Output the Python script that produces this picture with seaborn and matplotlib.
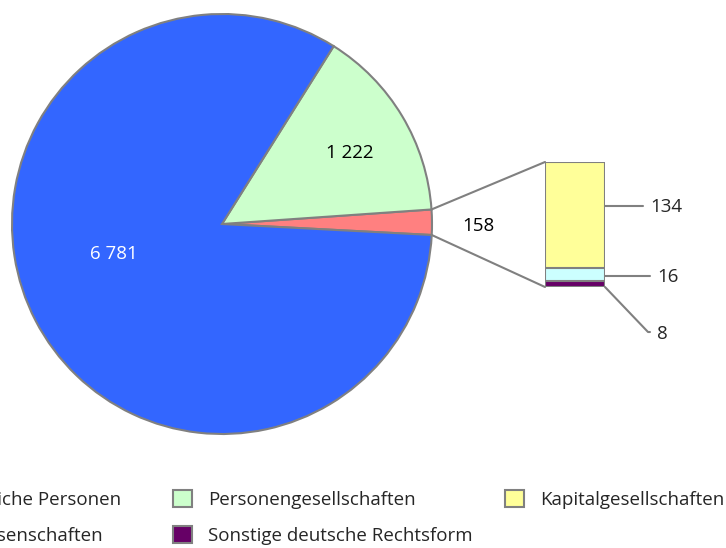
import matplotlib
matplotlib.use("Agg")
import matplotlib.pyplot as plt
from matplotlib.patches import Patch, ConnectionPatch
import numpy as np
import seaborn as sns

sns.set_theme(style="white")
plt.rcParams['font.family'] = ['Open Sans', 'DejaVu Sans']

# pie: red slice is the sum of the bar parts
pie_labels = ["Sonstige", "Personengesellschaften", "Natürliche Personen"]
pie_values = [158, 1222, 6781]
pie_colors = ["#FF8080", "#CCFFCC", "#3366FF"]

# bar that breaks down the red slice (bottom to top)
bar_labels = ["Sonstige deutsche Rechtsform", "Genossenschaften", "Kapitalgesellschaften"]
bar_values = [8, 16, 134]
bar_colors = ["#660066", "#CCFFFF", "#FFFF99"]

# legend columns as in the original
leg_cols = [
    (["Natürliche Personen", "Genossenschaften"], ["#3366FF", "#CCFFFF"]),
    (["Personengesellschaften", "Sonstige deutsche Rechtsform"], ["#CCFFCC", "#660066"]),
    (["Kapitalgesellschaften"], ["#FFFF99"]),
]

edge = "#808080"
fs = 13.5
W, H = 726, 548
fig = plt.figure(figsize=(W / 100, H / 100), dpi=100)

# pie axes: centre (222,224) radius 210 px
cx, cy, r = 222, 224, 210
pax = fig.add_axes([(cx - r) / W, (H - cy - r) / H, 2 * r / W, 2 * r / H])
red_share = pie_values[0] / sum(pie_values) * 360
start = -3.0
wedges, _ = pax.pie(pie_values, colors=pie_colors, startangle=start, counterclock=True,
                    wedgeprops=dict(edgecolor=edge, linewidth=1.5))
pax.set_xlim(-1, 1)
pax.set_ylim(-1, 1)
pax.set_aspect("auto")

def fmt(v):
    return f"{v:,}".replace(",", " ")

pax.text(0.610, 0.338, fmt(pie_values[1]), ha="center", va="center", fontsize=fs, color="black")
pax.text(-0.514, -0.143, fmt(pie_values[2]), ha="center", va="center", fontsize=fs, color="white")
pax.text(1.221, -0.009, fmt(pie_values[0]), ha="center", va="center", fontsize=fs, color="black")

# bar axes: x 545..605, y 162..287 px
bx0, bx1, by0, by1 = 545, 605, 162, 287
bax = fig.add_axes([bx0 / W, (H - by1) / H, (bx1 - bx0) / W, (by1 - by0) / H])
cum = np.cumsum(bar_values)
# draw cumulative heights from tallest to smallest so they stack visually
for i in reversed(range(len(bar_values))):
    sns.barplot(x=[0], y=[cum[i]], color=bar_colors[i], width=1.0, ax=bax,
                edgecolor=edge, linewidth=1.5, saturation=1)
bax.set_xlim(-0.5, 0.5)
bax.set_ylim(0, cum[-1])
bax.axis("off")

# connection lines from pie edge to bar corners
t1 = np.deg2rad(start)
t2 = np.deg2rad(start + red_share)
for th, yb in [(t2, cum[-1]), (t1, 0)]:
    con = ConnectionPatch(xyA=(np.cos(th), np.sin(th)), coordsA=pax.transData,
                          xyB=(-0.5, yb), coordsB=bax.transData,
                          color=edge, linewidth=1.5)
    fig.add_artist(con)

# leader lines and labels for bar parts
lk = dict(color=edge, linewidth=1.5, clip_on=False)
bax.plot([0.5, 1.133], [102.4, 102.4], **lk)
bax.text(1.25, 101, fmt(bar_values[2]), ha="left", va="center", fontsize=fs)
bax.plot([0.5, 1.25], [14.3, 14.3], **lk)
bax.text(1.37, 13, fmt(bar_values[1]), ha="left", va="center", fontsize=fs)
bax.plot([0.5, 1.217, 1.25], [0, -56.9, -56.9], **lk)
bax.text(1.37, -60, fmt(bar_values[0]), ha="left", va="center", fontsize=fs)

# legend: one legend per column (first column overflows the left edge)
leg_kw = dict(frameon=False, fontsize=fs, handlelength=1.0, handleheight=1.0,
              handletextpad=0.85, labelspacing=0.91, borderpad=0, borderaxespad=0)
top = 1 - 490 / H
anchors = [("upper right", 121), ("upper left", 173), ("upper left", 505)]
for (labels, colors), (loc, x) in zip(leg_cols, anchors):
    handles = [Patch(facecolor=c, edgecolor=edge, linewidth=1.5) for c in colors]
    fig.legend(handles, labels, loc=loc, bbox_to_anchor=(x / W, top), **leg_kw)

fig.savefig("out.png", dpi=100)
